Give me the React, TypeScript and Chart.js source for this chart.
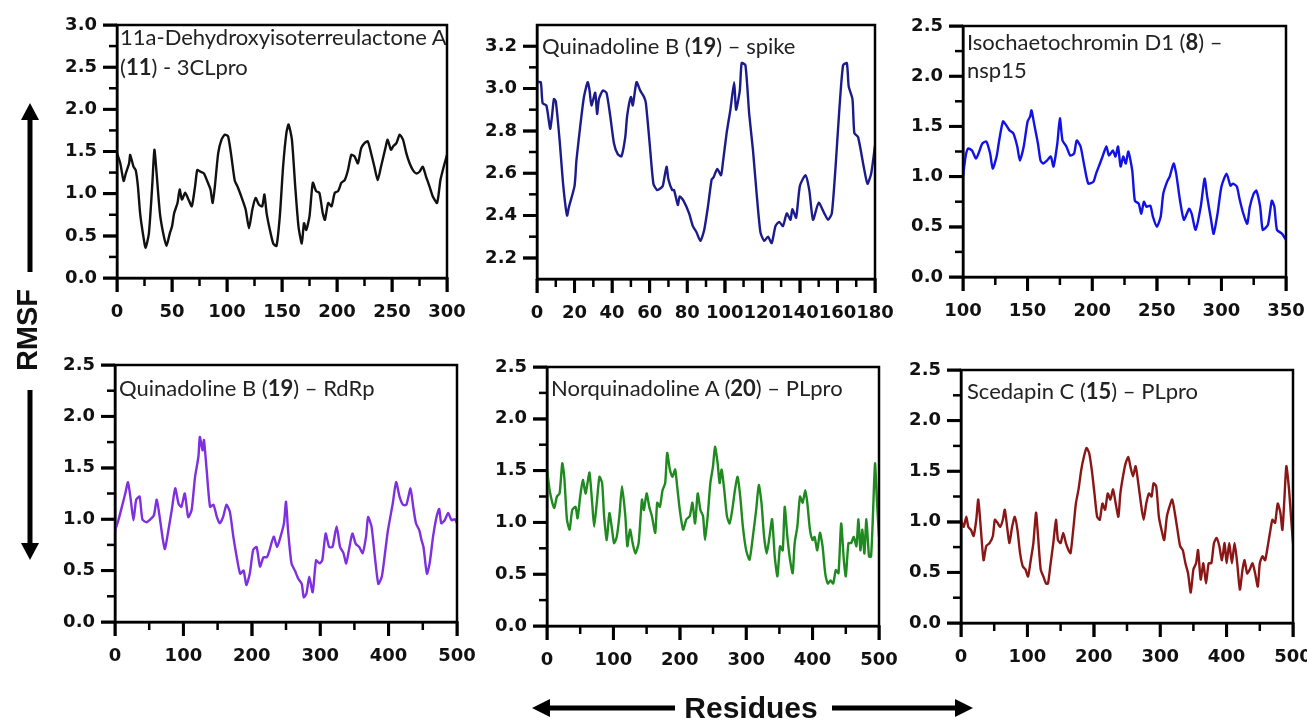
import React, { useEffect, useRef } from "react";
import { Chart, registerables } from "chart.js";

Chart.register(...registerables);

// ---------------- DATA ----------------
// Panel 1: 11a-Dehydroxyisoterreulactone A (11) - 3CLpro
const p1Residues = [0,3,6,8,11,12,15,17,19,21,24,26,29,32,34,36,39,42,45,48,50,52,55,57,59,62,65,68,71,73,76,79,82,85,87,89,92,95,98,101,104,107,110,114,117,120,123,126,129,132,134,136,139,142,145,148,151,154,156,159,162,165,168,170,172,175,178,181,184,187,189,192,195,198,201,204,207,210,213,216,219,222,225,228,231,234,237,240,244,246,249,251,254,257,260,263,266,269,272,275,278,281,284,287,291,294,297,300];
const p1Rmsf = [1.48,1.36,1.15,1.24,1.36,1.46,1.32,1.28,1.09,0.77,0.49,0.36,0.53,1.09,1.52,1.24,0.77,0.53,0.38,0.53,0.61,0.77,0.89,1.05,0.93,1.01,0.93,0.85,1.09,1.28,1.26,1.24,1.15,1.05,0.89,1.09,1.48,1.64,1.70,1.68,1.44,1.16,1.07,0.93,0.81,0.59,0.81,0.95,0.87,0.85,0.99,0.77,0.57,0.41,0.38,0.73,1.32,1.72,1.82,1.64,1.09,0.61,0.41,0.65,0.57,0.73,1.13,1.03,1.01,0.77,0.69,0.89,0.85,1.01,1.03,1.13,1.16,1.28,1.46,1.44,1.36,1.54,1.60,1.62,1.48,1.32,1.16,1.32,1.54,1.64,1.52,1.56,1.60,1.70,1.64,1.48,1.36,1.28,1.24,1.26,1.32,1.20,1.09,0.97,0.89,1.16,1.32,1.46];

// Panel 2: Quinadoline B (19) - spike
const p2Residues = [0,2,3,5,7,8,9,10,12,14,16,17,20,21,23,25,27,28,29,31,32,33,35,37,39,41,43,45,47,48,50,51,53,55,57,58,60,62,64,66,67,69,70,72,73,75,76,78,81,83,85,87,89,91,93,94,96,98,99,101,103,105,106,108,109,111,113,115,117,119,121,123,125,127,129,131,133,135,136,138,140,143,145,147,150,153,155,157,159,161,163,165,166,168,169,171,174,176,178,180];
const p2Rmsf = [3.03,3.03,2.93,2.92,2.81,2.87,2.95,2.94,2.76,2.54,2.40,2.44,2.54,2.66,2.82,2.96,3.03,2.99,2.92,2.98,2.88,2.95,2.99,2.98,2.87,2.74,2.69,2.68,2.77,2.87,2.96,2.92,3.03,2.99,2.96,2.93,2.74,2.55,2.52,2.53,2.54,2.63,2.57,2.52,2.52,2.45,2.49,2.47,2.41,2.35,2.32,2.28,2.33,2.44,2.57,2.58,2.62,2.59,2.65,2.79,2.90,3.03,2.90,2.99,3.12,3.11,2.88,2.71,2.50,2.32,2.28,2.30,2.27,2.35,2.37,2.35,2.41,2.38,2.43,2.39,2.54,2.59,2.52,2.38,2.46,2.41,2.38,2.41,2.63,2.90,3.11,3.12,3.01,2.95,2.79,2.77,2.63,2.55,2.60,2.73];

// Panel 3: Isochaetochromin D1 (8) - nsp15
const p3Residues = [100,102,104,107,110,112,115,118,121,123,126,128,131,134,136,139,142,144,147,150,152,153,155,158,160,162,165,168,170,173,175,177,180,183,186,188,191,194,197,201,203,206,208,211,213,216,218,220,222,224,226,228,231,233,236,238,240,242,245,247,250,253,255,258,260,263,265,268,271,275,277,280,284,287,289,292,294,297,300,304,307,309,312,314,317,320,322,325,327,330,332,336,339,341,343,347,350];
const p3Rmsf = [1.00,1.20,1.28,1.26,1.18,1.23,1.33,1.35,1.23,1.08,1.20,1.36,1.55,1.50,1.46,1.43,1.30,1.16,1.30,1.55,1.60,1.66,1.53,1.33,1.16,1.13,1.16,1.20,1.10,1.33,1.58,1.36,1.30,1.21,1.23,1.36,1.30,1.10,0.93,0.95,1.03,1.13,1.20,1.30,1.21,1.26,1.20,1.30,1.10,1.20,1.13,1.25,1.06,0.76,0.73,0.63,0.75,0.70,0.71,0.60,0.50,0.60,0.83,0.95,1.00,1.13,1.03,0.76,0.57,0.68,0.63,0.47,0.70,0.98,0.80,0.57,0.43,0.63,0.90,1.03,0.91,0.93,0.90,0.78,0.63,0.53,0.70,0.83,0.86,0.70,0.47,0.52,0.76,0.70,0.47,0.43,0.37];

// Panel 4: Quinadoline B (19) - RdRp
const p4Residues = [0,5,10,15,19,23,27,31,36,40,46,52,57,61,66,70,73,78,83,88,93,97,102,107,112,117,122,124,128,130,134,139,144,149,153,158,163,168,173,178,183,188,192,197,202,207,212,217,222,226,232,237,242,247,250,253,258,263,268,273,276,280,284,289,294,299,303,308,313,318,324,329,334,338,342,347,352,357,362,367,370,375,380,385,390,394,399,406,411,416,421,426,432,436,440,445,448,451,456,460,465,470,474,477,482,487,492,497,500];
const p4Rmsf = [0.89,0.99,1.12,1.25,1.36,1.19,0.99,1.19,1.22,1.00,0.97,1.00,1.04,1.19,0.99,0.80,0.71,0.89,1.09,1.30,1.15,1.12,1.25,1.02,1.09,1.41,1.61,1.80,1.67,1.77,1.48,1.12,1.14,1.02,0.96,1.02,1.14,1.07,0.83,0.63,0.47,0.50,0.36,0.47,0.70,0.73,0.54,0.63,0.63,0.70,0.83,0.73,0.83,0.96,1.17,0.89,0.57,0.50,0.42,0.37,0.24,0.28,0.44,0.29,0.60,0.57,0.60,0.86,0.73,0.73,0.93,0.73,0.67,0.57,0.70,0.86,0.76,0.73,0.67,0.83,1.02,0.93,0.63,0.37,0.44,0.63,0.89,1.15,1.36,1.22,1.14,1.14,1.30,1.12,0.96,0.89,0.80,0.73,0.47,0.57,0.83,1.02,1.10,0.96,0.99,1.06,0.99,1.00,0.96];

// Panel 5: Norquinadoline A (20) - PLpro
const p5Residues = [0,4,8,11,15,19,23,26,30,34,38,43,46,50,54,58,61,64,68,71,75,79,83,86,90,94,98,101,105,109,113,118,121,125,129,133,138,143,146,150,154,158,163,166,170,174,178,181,185,189,193,196,200,205,210,215,219,223,227,231,235,238,242,246,250,253,257,260,263,267,271,275,279,283,287,291,295,300,305,310,315,319,323,327,331,335,339,343,347,351,355,358,362,366,370,373,377,381,385,389,392,396,400,403,407,411,415,419,423,427,431,435,439,443,447,450,454,458,462,466,469,472,475,478,481,485,488,491,494,497,500];
const p5Rmsf = [1.51,1.31,1.19,1.14,1.25,1.28,1.57,1.44,1.03,0.93,1.12,1.15,1.04,1.25,1.41,1.28,1.38,1.48,1.19,0.96,1.19,1.44,1.38,1.06,0.83,1.09,0.93,0.80,0.86,1.06,1.35,1.06,0.77,0.93,0.80,0.70,0.80,1.22,1.12,1.28,1.15,1.06,0.90,1.19,1.15,1.31,1.38,1.67,1.51,1.44,1.51,1.35,1.12,0.93,1.03,1.06,1.19,0.99,1.28,1.12,1.06,0.83,1.06,1.38,1.54,1.73,1.57,1.38,1.51,1.31,1.06,0.99,1.12,1.31,1.44,1.25,0.96,0.73,0.64,0.86,1.12,1.36,1.19,0.86,0.70,0.86,1.03,0.67,0.48,0.77,0.73,1.15,0.86,0.64,0.51,0.80,0.96,1.25,1.19,1.31,1.19,0.93,0.83,0.86,0.73,0.90,0.77,0.51,0.41,0.44,0.41,0.54,0.51,0.99,0.64,0.48,0.80,0.80,0.86,0.77,1.03,0.73,0.93,0.70,1.03,0.67,0.67,1.09,1.57,1.19,0.86];

// Panel 6: Scedapin C (15) - PLpro
const p6Residues = [0,4,8,11,15,19,23,26,30,34,38,43,48,51,55,59,63,66,70,73,77,81,85,89,93,97,101,105,109,113,116,120,124,128,131,135,139,143,146,150,154,158,162,165,169,173,177,181,185,189,193,197,201,205,209,213,217,221,225,229,233,237,240,244,248,252,255,259,263,267,271,275,279,283,287,290,294,298,302,306,310,314,318,322,326,330,334,338,342,346,350,354,357,361,365,369,373,377,381,385,389,393,397,400,404,408,412,416,420,424,427,431,435,439,443,447,450,454,458,462,466,469,473,477,481,484,487,490,494,497,500];
const p6Rmsf = [1.02,0.95,1.05,0.95,0.92,0.86,1.02,1.22,0.92,0.62,0.76,0.79,0.86,1.02,0.99,0.95,1.02,1.12,0.92,0.79,0.95,1.05,0.92,0.69,0.56,0.53,0.46,0.62,0.79,1.09,0.86,0.53,0.46,0.39,0.39,0.59,0.79,1.02,0.82,0.79,0.89,0.79,0.72,0.69,0.92,1.18,1.32,1.51,1.64,1.73,1.68,1.51,1.28,1.05,1.02,1.18,1.12,1.28,1.22,1.32,1.18,1.05,1.28,1.45,1.58,1.64,1.55,1.45,1.55,1.38,1.18,1.02,1.18,1.28,1.25,1.38,1.35,1.05,0.92,0.82,1.05,1.15,1.22,1.09,0.92,0.76,0.72,0.59,0.49,0.30,0.53,0.59,0.72,0.43,0.59,0.39,0.59,0.59,0.79,0.84,0.76,0.62,0.79,0.59,0.79,0.59,0.79,0.59,0.33,0.53,0.62,0.49,0.53,0.59,0.49,0.36,0.59,0.66,0.62,0.76,0.92,1.02,0.99,1.18,1.09,0.92,1.22,1.55,1.32,1.05,0.79];

// Tick values
const yTicks3 = [0, 0.5, 1.0, 1.5, 2.0, 2.5, 3.0];
const yMinor3 = [0.25, 0.75, 1.25, 1.75, 2.25, 2.75];
const yTicks25 = [0, 0.5, 1.0, 1.5, 2.0, 2.5];
const yMinor25 = [0.25, 0.75, 1.25, 1.75, 2.25];
const yTicksSpike = [2.2, 2.4, 2.6, 2.8, 3.0, 3.2];
const yMinorSpike = [2.3, 2.5, 2.7, 2.9, 3.1];
const xTicks300 = [0, 50, 100, 150, 200, 250, 300];
const xMinor300 = [25, 75, 125, 175, 225, 275];
const xTicks180 = [0, 20, 40, 60, 80, 100, 120, 140, 160, 180];
const xMinor180 = [10, 30, 50, 70, 90, 110, 130, 150, 170];
const xTicks350 = [100, 150, 200, 250, 300, 350];
const xMinor350 = [125, 175, 225, 275, 325];
const xTicks500 = [0, 100, 200, 300, 400, 500];
const xMinor500 = [50, 150, 250, 350, 450];

// Titles: [normal, bold, normal] segments per line
const titles: string[][][] = [
  [["11a-Dehydroxyisoterreulactone A"], ["(", "11", ") - 3CLpro"]],
  [["Quinadoline B (", "19", ") \u2013 spike"]],
  [["Isochaetochromin D1 (", "8", ") \u2013"], ["nsp15"]],
  [["Quinadoline B (", "19", ") \u2013 RdRp"]],
  [["Norquinadoline A (", "20", ") \u2013 PLpro"]],
  [["Scedapin C (", "15", ") \u2013 PLpro"]],
];

const yAxisLabel = "RMSF";
const xAxisLabel = "Residues";

// ---------------- LAYOUT / STYLE ----------------
type Panel = {
  x: number[]; y: number[]; color: string;
  xMin: number; xMax: number; yMin: number; yMax: number;
  xTicks: number[]; xMinor: number[]; yTicks: number[]; yMinor: number[];
  box: { l: number; t: number; r: number; b: number };
  title: { left: number; top: number; lineHeight: number };
  titleIdx: number;
};

const panels: Panel[] = [
  { x: p1Residues, y: p1Rmsf, color: "#111111", xMin: 0, xMax: 300, yMin: 0, yMax: 3, xTicks: xTicks300, xMinor: xMinor300, yTicks: yTicks3, yMinor: yMinor3, box: { l: 117, t: 25, r: 447, b: 278 }, title: { left: 120, top: 22, lineHeight: 30 }, titleIdx: 0 },
  { x: p2Residues, y: p2Rmsf, color: "#1b1b8c", xMin: 0, xMax: 180, yMin: 2.1, yMax: 3.3, xTicks: xTicks180, xMinor: xMinor180, yTicks: yTicksSpike, yMinor: yMinorSpike, box: { l: 537, t: 25, r: 875, b: 279 }, title: { left: 542, top: 31, lineHeight: 29 }, titleIdx: 1 },
  { x: p3Residues, y: p3Rmsf, color: "#1212e8", xMin: 100, xMax: 350, yMin: 0, yMax: 2.5, xTicks: xTicks350, xMinor: xMinor350, yTicks: yTicks25, yMinor: yMinor25, box: { l: 963, t: 26, r: 1286, b: 277 }, title: { left: 967, top: 28, lineHeight: 28 }, titleIdx: 2 },
  { x: p4Residues, y: p4Rmsf, color: "#7e2fe0", xMin: 0, xMax: 500, yMin: 0, yMax: 2.5, xTicks: xTicks500, xMinor: xMinor500, yTicks: yTicks25, yMinor: yMinor25, box: { l: 115, t: 365, r: 457, b: 622 }, title: { left: 119, top: 373, lineHeight: 29 }, titleIdx: 3 },
  { x: p5Residues, y: p5Rmsf, color: "#1f8a1f", xMin: 0, xMax: 500, yMin: 0, yMax: 2.5, xTicks: xTicks500, xMinor: xMinor500, yTicks: yTicks25, yMinor: yMinor25, box: { l: 547, t: 367, r: 879, b: 626 }, title: { left: 551, top: 373, lineHeight: 29 }, titleIdx: 4 },
  { x: p6Residues, y: p6Rmsf, color: "#8b1616", xMin: 0, xMax: 500, yMin: 0, yMax: 2.5, xTicks: xTicks500, xMinor: xMinor500, yTicks: yTicks25, yMinor: yMinor25, box: { l: 961, t: 370, r: 1293, b: 623 }, title: { left: 967, top: 376, lineHeight: 29 }, titleIdx: 5 },
];

const PAD_L = 80;
const PAD_T = 20;
const PAD_R = 30;
const PAD_B = 50;
const MAJOR_LEN = 14;
const MINOR_LEN = 8;
const TICK_FONT = { family: "'DejaVu Sans', sans-serif", weight: "bold" as const, size: 18 };

function PanelChart({ p }: { p: Panel }) {
  const ref = useRef<HTMLCanvasElement | null>(null);
  const w = p.box.r - p.box.l + PAD_L + PAD_R;
  const h = p.box.b - p.box.t + PAD_T + PAD_B;

  useEffect(() => {
    if (!ref.current) return;
    const framePlugin = {
      id: "frameAndTicks",
      afterDraw(chart: any) {
        const ctx: CanvasRenderingContext2D = chart.ctx;
        const area = chart.chartArea;
        const xs = chart.scales.x;
        const ys = chart.scales.y;
        ctx.save();
        ctx.fillStyle = "#000";
        ctx.strokeStyle = "#000";
        ctx.lineWidth = 2.5;
        ctx.strokeRect(area.left, area.top, area.right - area.left, area.bottom - area.top);
        p.xTicks.forEach((v) => {
          const px = xs.getPixelForValue(v);
          ctx.fillRect(px - 1.5, area.bottom, 3, MAJOR_LEN);
        });
        p.yTicks.forEach((v) => {
          const py = ys.getPixelForValue(v);
          ctx.fillRect(area.left - MAJOR_LEN, py - 1.5, MAJOR_LEN, 3);
        });
        p.xMinor.forEach((v) => {
          const px = xs.getPixelForValue(v);
          ctx.fillRect(px - 1.25, area.bottom, 2.5, MINOR_LEN);
        });
        p.yMinor.forEach((v) => {
          const py = ys.getPixelForValue(v);
          ctx.fillRect(area.left - MINOR_LEN, py - 1.25, MINOR_LEN, 2.5);
        });
        ctx.restore();
      },
    };

    const chart = new Chart(ref.current, {
      type: "line",
      data: {
        datasets: [
          {
            data: p.x.map((xv, i) => ({ x: xv, y: p.y[i] })),
            borderColor: p.color,
            borderWidth: 2.4,
            pointRadius: 0,
            tension: 0.2,
            fill: false,
          },
        ],
      },
      options: {
        animation: false,
        responsive: false,
        maintainAspectRatio: false,
        events: [],
        layout: { padding: { left: 0, top: PAD_T, right: PAD_R, bottom: 0 } },
        plugins: { legend: { display: false }, tooltip: { enabled: false }, title: { display: false } },
        scales: {
          x: {
            type: "linear",
            min: p.xMin,
            max: p.xMax,
            afterBuildTicks: (s: any) => { s.ticks = p.xTicks.map((v) => ({ value: v })); },
            afterFit: (s: any) => { s.height = PAD_B; s.paddingLeft = 0; s.paddingRight = 0; },
            grid: { display: true, drawOnChartArea: false, drawTicks: true, tickLength: MAJOR_LEN, color: "#000", lineWidth: 2.5 },
            border: { display: true, color: "#000", width: 2.5 },
            ticks: { font: TICK_FONT, color: "#111", padding: 10, maxRotation: 0, autoSkip: false, callback: (v: any) => String(v) },
          },
          y: {
            type: "linear",
            min: p.yMin,
            max: p.yMax,
            afterBuildTicks: (s: any) => { s.ticks = p.yTicks.map((v) => ({ value: v })); },
            afterFit: (s: any) => { s.width = PAD_L; s.paddingTop = 0; s.paddingBottom = 0; },
            grid: { display: true, drawOnChartArea: false, drawTicks: true, tickLength: MAJOR_LEN, color: "#000", lineWidth: 2.5 },
            border: { display: true, color: "#000", width: 2.5 },
            ticks: { font: TICK_FONT, color: "#111", padding: 6, autoSkip: false, callback: (v: any) => Number(v).toFixed(1) },
          },
        },
      },
      plugins: [framePlugin],
    } as any);
    return () => chart.destroy();
  }, []);

  return (
    <canvas
      ref={ref}
      width={w}
      height={h}
      style={{ position: "absolute", left: p.box.l - PAD_L, top: p.box.t - PAD_T, width: w, height: h }}
    />
  );
}

function Title({ p }: { p: Panel }) {
  const lines = titles[p.titleIdx];
  return (
    <div
      style={{
        position: "absolute",
        left: p.title.left,
        top: p.title.top,
        fontFamily: "Lato, 'Open Sans', sans-serif",
        fontSize: 22,
        lineHeight: `${p.title.lineHeight}px`,
        color: "#222",
        whiteSpace: "nowrap",
        pointerEvents: "none",
      }}
    >
      {lines.map((segs, i) => (
        <div key={i}>
          {segs.map((s, j) => (j % 2 === 1 ? <b key={j}>{s}</b> : <span key={j}>{s}</span>))}
        </div>
      ))}
    </div>
  );
}

export default function App() {
  return (
    <div style={{ position: "fixed", left: 0, top: 0, width: 1307, height: 721, background: "#fff", overflow: "hidden" }}>
      {panels.map((p, i) => (
        <PanelChart key={i} p={p} />
      ))}
      {panels.map((p, i) => (
        <Title key={"t" + i} p={p} />
      ))}
      <svg width={1307} height={721} style={{ position: "absolute", left: 0, top: 0, pointerEvents: "none" }}>
        <rect x={27.5} y={116} width={5} height={156} fill="#000" />
        <polygon points="30,103 21,120 39,120" fill="#000" />
        <rect x={27.5} y={390} width={5} height={156} fill="#000" />
        <polygon points="30,560 21,543 39,543" fill="#000" />
        <rect x={548} y={705.5} width={127} height={5} fill="#000" />
        <polygon points="532,708 550,699 550,717" fill="#000" />
        <rect x={832} y={705.5} width={125} height={5} fill="#000" />
        <polygon points="973,708 955,699 955,717" fill="#000" />
      </svg>
      <div
        style={{
          position: "absolute",
          left: 27,
          top: 330,
          transform: "translate(-50%, -50%) rotate(-90deg)",
          fontFamily: "'Liberation Sans', Arial, sans-serif",
          fontWeight: "bold",
          fontSize: 29,
          lineHeight: "32px",
          color: "#111",
          whiteSpace: "nowrap",
        }}
      >
        {yAxisLabel}
      </div>
      <div
        style={{
          position: "absolute",
          left: 751,
          top: 708,
          transform: "translate(-50%, -50%)",
          fontFamily: "'Liberation Sans', Arial, sans-serif",
          fontWeight: "bold",
          fontSize: 30,
          lineHeight: "32px",
          color: "#111",
          whiteSpace: "nowrap",
        }}
      >
        {xAxisLabel}
      </div>
    </div>
  );
}
